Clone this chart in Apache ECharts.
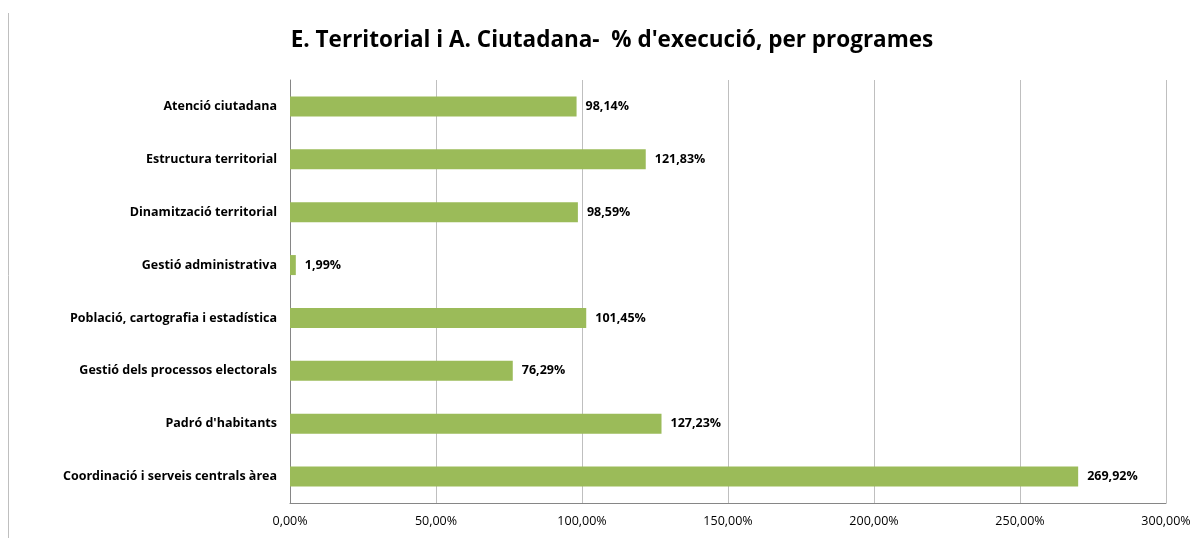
<!DOCTYPE html>
<html>
<head>
<meta charset="utf-8">
<script src="https://cdn.jsdelivr.net/npm/echarts@6/dist/echarts.min.js"></script>
<style>
  html, body { margin: 0; padding: 0; background: #fff; }
  #main { width: 1198px; height: 538px; }
</style>
</head>
<body>
<div id="main"></div>
<script>
// programes (de dalt a baix com a la imatge)
var programes = [
  "Atenció ciutadana",
  "Estructura territorial",
  "Dinamització territorial",
  "Gestió administrativa",
  "Població, cartografia i estadística",
  "Gestió dels processos electorals",
  "Padró d'habitants",
  "Coordinació i serveis centrals àrea"
];
// % d'execució
var execucio = [98.14, 121.83, 98.59, 1.99, 101.45, 76.29, 127.23, 269.92];

var fmt = function (v) {
  return v.toFixed(2).replace(".", ",") + "%";
};

var myChart = echarts.init(document.getElementById("main"));
myChart.setOption({
  animation: false,
  textStyle: { fontFamily: "Open Sans" },
  title: {
    text: "E. Territorial i A. Ciutadana-  % d'execució, per programes",
    left: 607,
    textAlign: "center",
    top: 24,
    textStyle: { fontSize: 22.5, fontWeight: "bold", color: "#000", fontFamily: "Open Sans" }
  },
  graphic: [
    {
      type: "line",
      shape: { x1: 8.5, y1: 13, x2: 8.5, y2: 538 },
      style: { stroke: "#bfbfbf", lineWidth: 1 }
    }
  ],
  grid: { left: 290, right: 32, top: 80, bottom: 35 },
  xAxis: {
    type: "value",
    min: 0,
    max: 300,
    interval: 50,
    axisLine: { show: true, lineStyle: { color: "#868686" } },
    axisTick: { show: false },
    splitLine: { lineStyle: { color: "#bfbfbf" } },
    axisLabel: {
      formatter: fmt,
      color: "#000",
      fontSize: 12.5,
      margin: 12
    }
  },
  yAxis: {
    type: "category",
    inverse: true,
    data: programes,
    axisLine: { show: true, lineStyle: { color: "#868686" } },
    axisTick: { show: false },
    axisLabel: {
      color: "#000",
      fontSize: 12.5,
      fontWeight: "bold",
      margin: 13
    }
  },
  series: [
    {
      type: "bar",
      data: execucio,
      barWidth: 20,
      itemStyle: { color: "#9bbb59" },
      label: {
        show: true,
        position: "right",
        distance: 9,
        formatter: function (p) { return fmt(p.value); },
        color: "#000",
        fontSize: 12.5,
        fontWeight: "bold"
      }
    }
  ]
});
</script>
</body>
</html>
